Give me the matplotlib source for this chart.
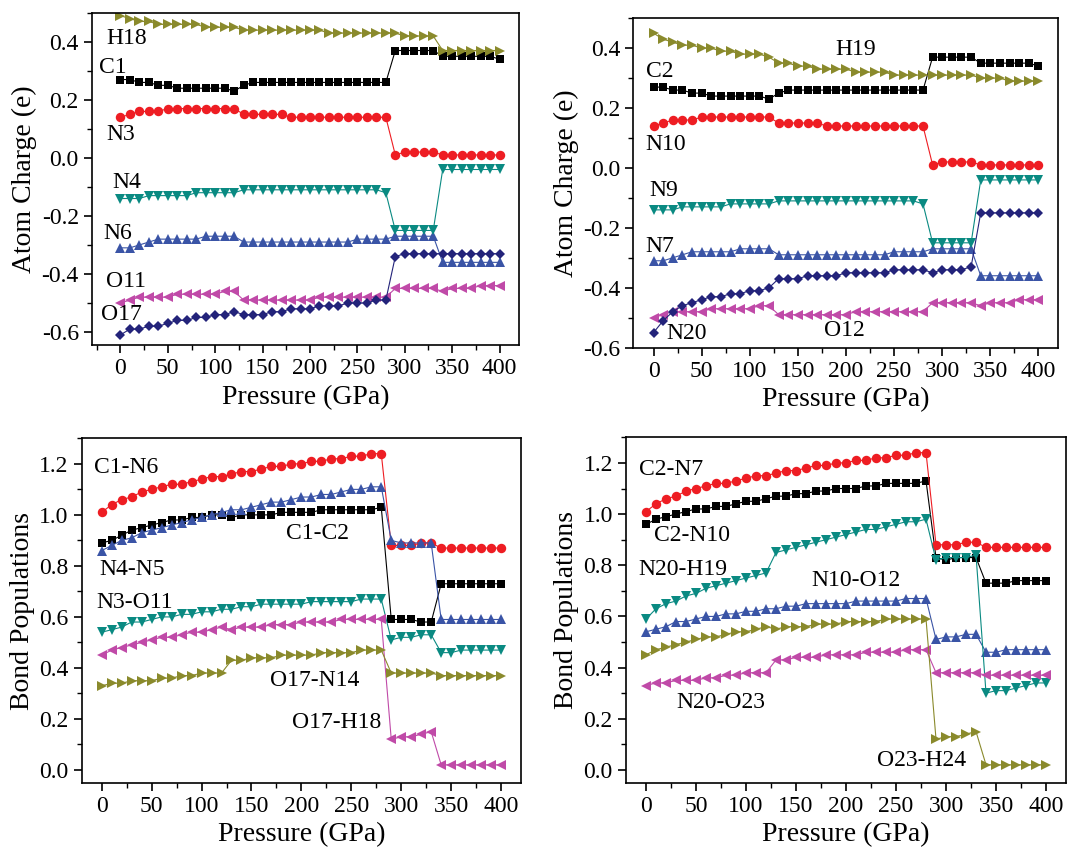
import matplotlib
matplotlib.use("Agg")
import matplotlib.pyplot as plt
from matplotlib.ticker import MultipleLocator

plt.rcParams['font.family'] = ['Liberation Serif', 'DejaVu Serif']

# pressure grid (GPa)
pressure = [0, 10, 20, 30, 40, 50, 60, 70, 80, 90,
            100, 110, 120, 130, 140, 150, 160, 170, 180, 190,
            200, 210, 220, 230, 240, 250, 260, 270, 280, 290,
            300, 310, 320, 330, 340, 350, 360, 370, 380, 390, 400]

# ---- top left: atom charges, molecule 1 ----
h18 = [0.49, 0.48, 0.47, 0.47, 0.46, 0.46, 0.46, 0.46, 0.46, 0.45,
       0.45, 0.45, 0.45, 0.44, 0.44, 0.44, 0.44, 0.44, 0.44, 0.44,
       0.44, 0.44, 0.43, 0.43, 0.43, 0.43, 0.43, 0.43, 0.43, 0.43,
       0.42, 0.42, 0.42, 0.42, 0.37, 0.37, 0.37, 0.37, 0.37, 0.37, 0.37]
c1 = [0.27, 0.27, 0.26, 0.26, 0.25, 0.25, 0.24, 0.24, 0.24, 0.24,
      0.24, 0.24, 0.23, 0.25, 0.26, 0.26, 0.26, 0.26, 0.26, 0.26,
      0.26, 0.26, 0.26, 0.26, 0.26, 0.26, 0.26, 0.26, 0.26, 0.37,
      0.37, 0.37, 0.37, 0.37, 0.35, 0.35, 0.35, 0.35, 0.35, 0.35, 0.34]
n3 = [0.14, 0.15, 0.16, 0.16, 0.16, 0.17, 0.17, 0.17, 0.17, 0.17,
      0.17, 0.17, 0.17, 0.15, 0.15, 0.15, 0.15, 0.15, 0.14, 0.14,
      0.14, 0.14, 0.14, 0.14, 0.14, 0.14, 0.14, 0.14, 0.14, 0.01,
      0.02, 0.02, 0.02, 0.02, 0.01, 0.01, 0.01, 0.01, 0.01, 0.01, 0.01]
n4 = [-0.14, -0.14, -0.14, -0.13, -0.13, -0.13, -0.13, -0.13, -0.12, -0.12,
      -0.12, -0.12, -0.12, -0.11, -0.11, -0.11, -0.11, -0.11, -0.11, -0.11,
      -0.11, -0.11, -0.11, -0.11, -0.11, -0.11, -0.11, -0.11, -0.12, -0.25,
      -0.25, -0.25, -0.25, -0.25, -0.04, -0.04, -0.04, -0.04, -0.04, -0.04, -0.04]
n6 = [-0.31, -0.31, -0.30, -0.29, -0.28, -0.28, -0.28, -0.28, -0.28, -0.27,
      -0.27, -0.27, -0.27, -0.29, -0.29, -0.29, -0.29, -0.29, -0.29, -0.29,
      -0.29, -0.29, -0.29, -0.29, -0.29, -0.28, -0.28, -0.28, -0.28, -0.27,
      -0.27, -0.27, -0.27, -0.27, -0.36, -0.36, -0.36, -0.36, -0.36, -0.36, -0.36]
o11 = [-0.50, -0.49, -0.48, -0.48, -0.48, -0.48, -0.47, -0.47, -0.47, -0.47,
       -0.47, -0.46, -0.46, -0.49, -0.49, -0.49, -0.49, -0.49, -0.49, -0.49,
       -0.49, -0.48, -0.48, -0.48, -0.48, -0.48, -0.48, -0.48, -0.48, -0.45,
       -0.45, -0.45, -0.45, -0.45, -0.46, -0.45, -0.45, -0.45, -0.44, -0.44, -0.44]
o17 = [-0.61, -0.59, -0.59, -0.58, -0.58, -0.57, -0.56, -0.56, -0.55, -0.55,
       -0.54, -0.54, -0.53, -0.54, -0.54, -0.54, -0.53, -0.53, -0.52, -0.52,
       -0.52, -0.51, -0.51, -0.51, -0.50, -0.50, -0.50, -0.49, -0.49, -0.34,
       -0.33, -0.33, -0.33, -0.33, -0.33, -0.33, -0.33, -0.33, -0.33, -0.33, -0.33]

# ---- top right: atom charges, molecule 2 ----
h19 = [0.45, 0.43, 0.42, 0.41, 0.41, 0.40, 0.40, 0.39, 0.39, 0.38,
       0.38, 0.38, 0.37, 0.35, 0.35, 0.34, 0.34, 0.33, 0.33, 0.33,
       0.33, 0.32, 0.32, 0.32, 0.32, 0.31, 0.31, 0.31, 0.31, 0.31,
       0.31, 0.31, 0.31, 0.31, 0.30, 0.30, 0.30, 0.29, 0.29, 0.29, 0.29]
c2 = [0.27, 0.27, 0.26, 0.26, 0.25, 0.25, 0.24, 0.24, 0.24, 0.24,
      0.24, 0.24, 0.23, 0.25, 0.26, 0.26, 0.26, 0.26, 0.26, 0.26,
      0.26, 0.26, 0.26, 0.26, 0.26, 0.26, 0.26, 0.26, 0.26, 0.37,
      0.37, 0.37, 0.37, 0.37, 0.35, 0.35, 0.35, 0.35, 0.35, 0.35, 0.34]
n10 = [0.14, 0.15, 0.16, 0.16, 0.16, 0.17, 0.17, 0.17, 0.17, 0.17,
       0.17, 0.17, 0.17, 0.15, 0.15, 0.15, 0.15, 0.15, 0.14, 0.14,
       0.14, 0.14, 0.14, 0.14, 0.14, 0.14, 0.14, 0.14, 0.14, 0.01,
       0.02, 0.02, 0.02, 0.02, 0.01, 0.01, 0.01, 0.01, 0.01, 0.01, 0.01]
n9 = [-0.14, -0.14, -0.14, -0.13, -0.13, -0.13, -0.13, -0.13, -0.12, -0.12,
      -0.12, -0.12, -0.12, -0.11, -0.11, -0.11, -0.11, -0.11, -0.11, -0.11,
      -0.11, -0.11, -0.11, -0.11, -0.11, -0.11, -0.11, -0.11, -0.12, -0.25,
      -0.25, -0.25, -0.25, -0.25, -0.04, -0.04, -0.04, -0.04, -0.04, -0.04, -0.04]
n7 = [-0.31, -0.31, -0.30, -0.29, -0.28, -0.28, -0.28, -0.28, -0.28, -0.27,
      -0.27, -0.27, -0.27, -0.29, -0.29, -0.29, -0.29, -0.29, -0.29, -0.29,
      -0.29, -0.29, -0.29, -0.29, -0.29, -0.28, -0.28, -0.28, -0.28, -0.27,
      -0.27, -0.27, -0.27, -0.27, -0.36, -0.36, -0.36, -0.36, -0.36, -0.36, -0.36]
o12 = [-0.50, -0.49, -0.48, -0.48, -0.48, -0.48, -0.47, -0.47, -0.47, -0.47,
       -0.47, -0.46, -0.46, -0.49, -0.49, -0.49, -0.49, -0.49, -0.49, -0.49,
       -0.49, -0.48, -0.48, -0.48, -0.48, -0.48, -0.48, -0.48, -0.48, -0.45,
       -0.45, -0.45, -0.45, -0.45, -0.46, -0.45, -0.45, -0.45, -0.44, -0.44, -0.44]
n20 = [-0.55, -0.51, -0.48, -0.46, -0.45, -0.44, -0.43, -0.43, -0.42, -0.42,
       -0.41, -0.41, -0.40, -0.37, -0.37, -0.37, -0.36, -0.36, -0.36, -0.36,
       -0.35, -0.35, -0.35, -0.35, -0.35, -0.34, -0.34, -0.34, -0.34, -0.35,
       -0.34, -0.34, -0.34, -0.33, -0.15, -0.15, -0.15, -0.15, -0.15, -0.15, -0.15]

# ---- bottom left: bond populations, molecule 1 ----
c1_n6 = [1.01, 1.04, 1.06, 1.07, 1.09, 1.10, 1.11, 1.12, 1.12, 1.13,
         1.14, 1.15, 1.15, 1.16, 1.17, 1.17, 1.18, 1.19, 1.19, 1.20,
         1.20, 1.21, 1.21, 1.22, 1.22, 1.23, 1.23, 1.24, 1.24, 0.88,
         0.88, 0.88, 0.89, 0.89, 0.87, 0.87, 0.87, 0.87, 0.87, 0.87, 0.87]
c1_c2 = [0.89, 0.90, 0.92, 0.94, 0.95, 0.96, 0.97, 0.98, 0.98, 0.99,
         0.99, 1.00, 1.00, 0.99, 1.00, 1.00, 1.00, 1.00, 1.01, 1.01,
         1.01, 1.01, 1.02, 1.02, 1.02, 1.02, 1.02, 1.02, 1.03, 0.59,
         0.59, 0.59, 0.58, 0.58, 0.73, 0.73, 0.73, 0.73, 0.73, 0.73, 0.73]
n4_n5 = [0.86, 0.88, 0.90, 0.91, 0.93, 0.94, 0.95, 0.96, 0.97, 0.98,
         0.99, 1.00, 1.01, 1.02, 1.02, 1.03, 1.04, 1.05, 1.05, 1.06,
         1.07, 1.07, 1.08, 1.08, 1.09, 1.10, 1.10, 1.11, 1.11, 0.90,
         0.89, 0.89, 0.89, 0.89, 0.59, 0.59, 0.59, 0.59, 0.59, 0.59, 0.59]
n3_o11 = [0.54, 0.55, 0.56, 0.58, 0.58, 0.59, 0.60, 0.60, 0.61, 0.61,
          0.62, 0.62, 0.63, 0.63, 0.64, 0.64, 0.65, 0.65, 0.65, 0.65,
          0.65, 0.66, 0.66, 0.66, 0.66, 0.66, 0.67, 0.67, 0.67, 0.51,
          0.52, 0.52, 0.53, 0.53, 0.46, 0.46, 0.47, 0.47, 0.47, 0.47, 0.47]
o17_h18 = [0.45, 0.47, 0.48, 0.49, 0.50, 0.51, 0.52, 0.52, 0.53, 0.54,
           0.54, 0.55, 0.56, 0.55, 0.56, 0.56, 0.56, 0.57, 0.57, 0.57,
           0.58, 0.58, 0.58, 0.58, 0.59, 0.59, 0.59, 0.59, 0.59, 0.12,
           0.13, 0.13, 0.14, 0.15, 0.02, 0.02, 0.02, 0.02, 0.02, 0.02, 0.02]
o17_n14 = [0.33, 0.34, 0.34, 0.35, 0.35, 0.35, 0.36, 0.36, 0.37, 0.37,
           0.38, 0.38, 0.38, 0.43, 0.43, 0.44, 0.44, 0.44, 0.45, 0.45,
           0.45, 0.45, 0.46, 0.46, 0.46, 0.46, 0.47, 0.47, 0.47, 0.38,
           0.38, 0.38, 0.38, 0.38, 0.37, 0.37, 0.37, 0.37, 0.37, 0.37, 0.37]

# ---- bottom right: bond populations, molecule 2 ----
c2_n7 = [1.01, 1.04, 1.06, 1.07, 1.09, 1.10, 1.11, 1.12, 1.12, 1.13,
         1.14, 1.15, 1.15, 1.16, 1.17, 1.17, 1.18, 1.19, 1.19, 1.20,
         1.20, 1.21, 1.21, 1.22, 1.22, 1.23, 1.23, 1.24, 1.24, 0.88,
         0.88, 0.88, 0.89, 0.89, 0.87, 0.87, 0.87, 0.87, 0.87, 0.87, 0.87]
c2_n10 = [0.96, 0.98, 0.99, 1.00, 1.01, 1.02, 1.02, 1.03, 1.03, 1.04,
          1.05, 1.05, 1.06, 1.07, 1.07, 1.08, 1.08, 1.09, 1.09, 1.10,
          1.10, 1.10, 1.11, 1.11, 1.12, 1.12, 1.12, 1.12, 1.13, 0.83,
          0.82, 0.83, 0.83, 0.83, 0.73, 0.73, 0.73, 0.74, 0.74, 0.74, 0.74]
n20_h19 = [0.59, 0.63, 0.65, 0.66, 0.68, 0.69, 0.71, 0.72, 0.73, 0.74,
           0.75, 0.76, 0.77, 0.85, 0.86, 0.87, 0.88, 0.89, 0.90, 0.91,
           0.92, 0.93, 0.94, 0.94, 0.95, 0.96, 0.97, 0.97, 0.98, 0.82,
           0.83, 0.83, 0.83, 0.84, 0.30, 0.31, 0.31, 0.32, 0.33, 0.34, 0.34]
n10_o12 = [0.54, 0.55, 0.56, 0.58, 0.58, 0.59, 0.60, 0.60, 0.61, 0.61,
           0.62, 0.62, 0.63, 0.63, 0.64, 0.64, 0.65, 0.65, 0.65, 0.65,
           0.65, 0.66, 0.66, 0.66, 0.66, 0.66, 0.67, 0.67, 0.67, 0.51,
           0.52, 0.52, 0.53, 0.53, 0.46, 0.46, 0.47, 0.47, 0.47, 0.47, 0.47]
o23_h24 = [0.45, 0.47, 0.48, 0.49, 0.50, 0.51, 0.52, 0.52, 0.53, 0.54,
           0.54, 0.55, 0.56, 0.55, 0.56, 0.56, 0.56, 0.57, 0.57, 0.57,
           0.58, 0.58, 0.58, 0.58, 0.59, 0.59, 0.59, 0.59, 0.59, 0.12,
           0.13, 0.13, 0.14, 0.15, 0.02, 0.02, 0.02, 0.02, 0.02, 0.02, 0.02]
n20_o23 = [0.33, 0.34, 0.34, 0.35, 0.35, 0.35, 0.36, 0.36, 0.37, 0.37,
           0.38, 0.38, 0.38, 0.43, 0.43, 0.44, 0.44, 0.44, 0.45, 0.45,
           0.45, 0.45, 0.46, 0.46, 0.46, 0.46, 0.47, 0.47, 0.47, 0.38,
           0.38, 0.38, 0.38, 0.38, 0.37, 0.37, 0.37, 0.37, 0.37, 0.37, 0.37]

# colours (Origin-like)
BLACK = '#000000'
RED = '#ee1d23'
BLUE = '#3a54a6'
TEAL = '#0a8a82'
MAGENTA = '#c04aa8'
OLIVE = '#8a8a2c'
NAVY = '#23237a'

# marker sizes per shape
SIZES = {'s': 5.2, 'o': 6.8, '^': 7.2, 'v': 7.2, '<': 7.2, '>': 7.2, 'D': 5.6}


def series(ax, y, color, marker):
    ax.plot(pressure, y, color=color, lw=0.8, marker=marker, ms=SIZES[marker],
            markeredgewidth=0, markerfacecolor=color)


def style(ax, xlim, ylim, ylabel):
    ax.set_xlim(*xlim)
    ax.set_ylim(*ylim)
    ax.xaxis.set_major_locator(MultipleLocator(50))
    ax.xaxis.set_minor_locator(MultipleLocator(25))
    ax.yaxis.set_major_locator(MultipleLocator(0.2))
    ax.yaxis.set_minor_locator(MultipleLocator(0.1))
    ax.yaxis.set_major_formatter(plt.FormatStrFormatter('%.1f'))
    ax.tick_params(which='major', direction='out', length=6, width=1.2, labelsize=17)
    ax.tick_params(which='minor', direction='out', length=3.5, width=1.0)
    for s in ax.spines.values():
        s.set_linewidth(1.2)
    ax.set_xlabel('Pressure (GPa)', fontsize=20, labelpad=4)
    ax.set_ylabel(ylabel, fontsize=20, labelpad=3)


def labels(ax, items):
    for txt, x, y in items:
        ax.text(x, y, txt, fontsize=17, ha='left', va='center')


fig = plt.figure(figsize=(10.91, 8.52), dpi=100)

# top left
ax1 = fig.add_axes([0.0843, 0.595, 0.391, 0.390])
series(ax1, c1, BLACK, 's')
series(ax1, n3, RED, 'o')
series(ax1, n6, BLUE, '^')
series(ax1, n4, TEAL, 'v')
series(ax1, o11, MAGENTA, '<')
series(ax1, h18, OLIVE, '>')
series(ax1, o17, NAVY, 'D')
style(ax1, (-30, 420), (-0.645, 0.5), 'Atom Charge (e)')
labels(ax1, [('H18', -15, 0.41), ('C1', -23, 0.31), ('N3', -15, 0.08),
             ('N4', -9, -0.085), ('N6', -18, -0.26), ('O11', -15, -0.426),
             ('O17', -20, -0.541)])

# top right
ax2 = fig.add_axes([0.5805, 0.592, 0.389, 0.3866])
series(ax2, c2, BLACK, 's')
series(ax2, n10, RED, 'o')
series(ax2, n7, BLUE, '^')
series(ax2, n9, TEAL, 'v')
series(ax2, o12, MAGENTA, '<')
series(ax2, h19, OLIVE, '>')
series(ax2, n20, NAVY, 'D')
style(ax2, (-21, 420), (-0.6, 0.5), 'Atom Charge (e)')
labels(ax2, [('H19', 189, 0.394), ('C2', -8, 0.322), ('N10', -8, 0.077),
             ('N9', -4.5, -0.075), ('N7', -9, -0.263), ('N20', 13, -0.552),
             ('O12', 177, -0.544)])

# bottom left
ax3 = fig.add_axes([0.0749, 0.0813, 0.4027, 0.4042])
series(ax3, c1_c2, BLACK, 's')
series(ax3, c1_n6, RED, 'o')
series(ax3, n4_n5, BLUE, '^')
series(ax3, n3_o11, TEAL, 'v')
series(ax3, o17_h18, MAGENTA, '<')
series(ax3, o17_n14, OLIVE, '>')
style(ax3, (-20, 420), (-0.05, 1.3), 'Bond Populations')
labels(ax3, [('C1-N6', -8, 1.186), ('C1-C2', 185, 0.926), ('N4-N5', -2, 0.786),
             ('N3-O11', -5, 0.658), ('O17-N14', 169, 0.352), ('O17-H18', 191, 0.185)])

# bottom right
ax4 = fig.add_axes([0.5738, 0.0813, 0.4033, 0.4054])
series(ax4, c2_n10, BLACK, 's')
series(ax4, c2_n7, RED, 'o')
series(ax4, n10_o12, BLUE, '^')
series(ax4, n20_h19, TEAL, 'v')
series(ax4, n20_o23, MAGENTA, '<')
series(ax4, o23_h24, OLIVE, '>')
style(ax4, (-20, 420), (-0.05, 1.3), 'Bond Populations')
labels(ax4, [('C2-N7', -7, 1.173), ('C2-N10', 8, 0.917), ('N20-H19', -8, 0.782),
             ('N10-O12', 165, 0.741), ('N20-O23', 30, 0.263), ('O23-H24', 231, 0.037)])

fig.savefig('out.png', dpi=100)
